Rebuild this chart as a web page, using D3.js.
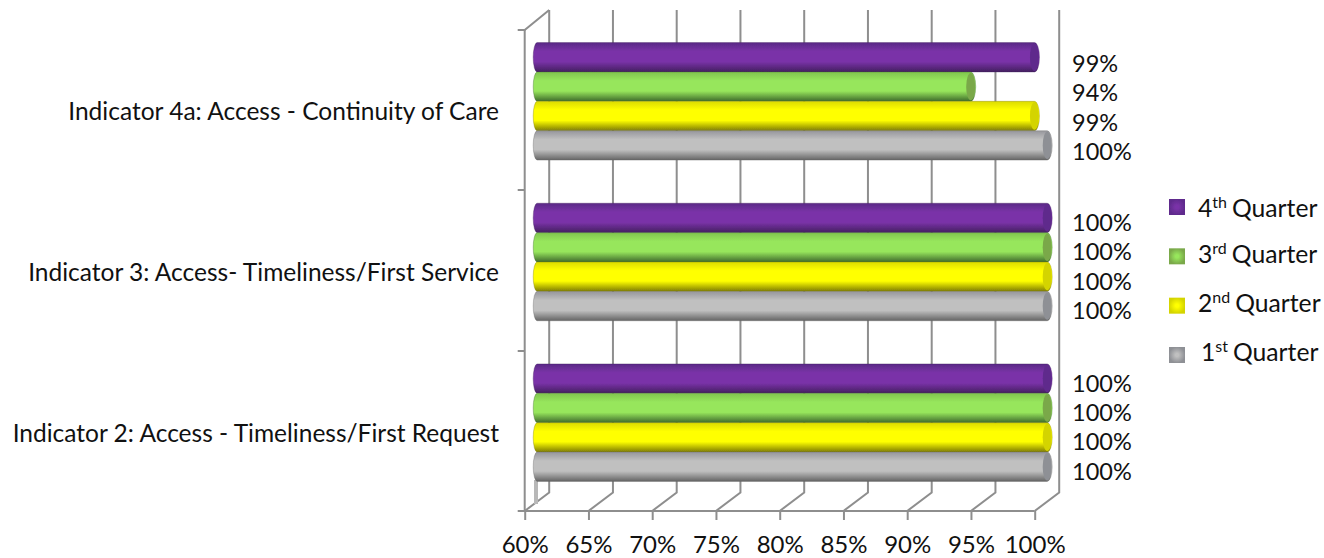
<!DOCTYPE html>
<html>
<head>
<meta charset="utf-8">
<script src="https://cdn.jsdelivr.net/npm/d3@7"></script>
<style>
  html, body { margin: 0; padding: 0; background: #fff; }
  text { font-family: Lato, "Open Sans", sans-serif; fill: #111; }
  .grid { stroke: #8e8e8e; stroke-width: 2; fill: none; }
</style>
</head>
<body>
<div id="vis"></div>
<script>
// data. categories run top to bottom
var categories = [
  "Indicator 4a: Access - Continuity of Care",
  "Indicator 3: Access- Timeliness/First Service",
  "Indicator 2: Access - Timeliness/First Request"
];
var quarters = ["4th", "3rd", "2nd", "1st"];
var q4 = [99, 100, 100];
var q3 = [94, 100, 100];
var q2 = [99, 100, 100];
var q1 = [100, 100, 100];
var xTicks = [60, 65, 70, 75, 80, 85, 90, 95, 100];

var series = [q4, q3, q2, q1];
var suffix = ["th", "rd", "nd", "st"];
var quarterNum = ["4", "3", "2", "1"];

// top, middle, bottom stops of each cylinder
var shades = [
  ["#5a2a86", "#7a32a8", "#43205f"],
  ["#80c44e", "#97e65c", "#3f6a2c"],
  ["#dcdc00", "#ffff00", "#7e7c08"],
  ["#96969c", "#c0c0c0", "#646464"]
];
var capFill = ["#5f2b8c", "#7aa84a", "#d4d400", "#8e9095"];

var width = 1324, height = 558;

var svg = d3.select("#vis").append("svg")
  .attr("width", width)
  .attr("height", height)
  .style("display", "block");

var defs = svg.append("defs");
shades.forEach(function(s, i) {
  var g = defs.append("linearGradient")
    .attr("id", "bar" + i)
    .attr("x1", 0).attr("x2", 0).attr("y1", 0).attr("y2", 1);
  g.append("stop").attr("offset", "0%").attr("stop-color", s[0]);
  g.append("stop").attr("offset", "30%").attr("stop-color", s[1]);
  g.append("stop").attr("offset", "65%").attr("stop-color", s[1]);
  g.append("stop").attr("offset", "100%").attr("stop-color", s[2]);

  // legend swatches are bevelled, light in the middle
  var r = defs.append("radialGradient").attr("id", "swatch" + i);
  r.append("stop").attr("offset", "20%").attr("stop-color", s[1]);
  r.append("stop").attr("offset", "100%").attr("stop-color", capFill[i]);
});
defs.append("filter").attr("id", "soft")
  .attr("x", "-5%").attr("y", "-5%").attr("width", "110%").attr("height", "110%")
  .append("feGaussianBlur").attr("stdDeviation", 0.6);

// front of the floor
var x = d3.scaleLinear().domain([60, 100]).range([524.7, 1034.7]);
var depthX = 24.5, depthY = 18.5;   // front to back wall
var top_ = 30, floor = 511;
var barShift = 12.5;

var y = d3.scaleBand().domain(categories).range([top_ - 9, floor - 8]);
var yInner = d3.scaleBand().domain(quarters).range([0, 117.5]);
var innerPad = (y.bandwidth() - 117.5) / 2;

// back wall gridlines and their diagonals
svg.selectAll(".wall").data(xTicks).enter().append("path")
  .attr("class", "grid")
  .attr("d", function(d) {
    return "M" + (x(d) + depthX) + "," + (top_ - 20) +
      "V" + (floor - depthY) + "L" + x(d) + "," + floor;
  });

// left wall and floor front edge
svg.append("path").attr("class", "grid")
  .attr("d", "M" + x(60) + "," + top_ + "V" + floor + "H" + x(100));
svg.append("path").attr("class", "grid")
  .attr("d", "M" + (x(60) - 7) + "," + top_ + "H" + x(60) + "L" + (x(60) + depthX) + "," + (top_ - 20));
svg.selectAll(".ytick").data([190, 351, 511]).enter().append("line")
  .attr("class", "grid")
  .attr("x1", x(60) - 7).attr("x2", x(60))
  .attr("y1", function(d) { return d; }).attr("y2", function(d) { return d; });

// floor stub behind the bottom group
svg.append("rect")
  .attr("x", 534).attr("y", 480).attr("width", 4).attr("height", 24)
  .attr("fill", "#b8b8b8");

// x axis
var xAxis = d3.axisBottom(x)
  .tickValues(xTicks)
  .tickSize(9)
  .tickPadding(16)
  .tickFormat(function(d) { return d + "%"; });
var axisG = svg.append("g")
  .attr("transform", "translate(0," + floor + ")")
  .call(xAxis);
axisG.select(".domain").remove();
axisG.selectAll("line").attr("class", "grid");
axisG.selectAll("text")
  .style("font-family", "Lato, sans-serif")
  .style("font-size", "24px")
  .attr("fill", "#111");

// category labels
svg.selectAll(".cat").data(categories).enter().append("text")
  .attr("class", "cat")
  .attr("x", 499)
  .attr("y", function(d) { return y(d) + y.bandwidth() / 2 + 19; })
  .attr("text-anchor", "end")
  .style("font-size", "24.5px")
  .text(function(d) { return d; });

// bars
var barLeft = x(60) + barShift;
function barPath(v, y0, h) {
  var xe = x(v) + barShift;
  return "M" + (barLeft) + "," + y0 + "H" + xe +
    "A5," + (h / 2) + " 0 0 1 " + xe + "," + (y0 + h) +
    "H" + barLeft +
    "A4," + (h / 2) + " 0 0 1 " + barLeft + "," + y0 + "Z";
}

var labelNudge = [1.5, 0, 0];

categories.forEach(function(cat, c) {
  var gy = y(cat) + innerPad;
  quarters.forEach(function(q, i) {
    var v = series[i][c];
    var by = gy + yInner(q);
    var h = yInner.bandwidth();
    var bar = svg.append("g").attr("filter", "url(#soft)");
    bar.append("path")
      .attr("d", barPath(v, by, h))
      .attr("fill", "url(#bar" + i + ")")
      .attr("stroke", shades[i][2])
      .attr("stroke-opacity", 0.45)
      .attr("stroke-width", 0.8);
    bar.append("ellipse")
      .attr("cx", x(v) + barShift)
      .attr("cy", by + h / 2)
      .attr("rx", 4.5)
      .attr("ry", h / 2 - 1)
      .attr("fill", capFill[i]);
    svg.append("text")
      .attr("x", 1072)
      .attr("y", by + h / 2 + 13 + labelNudge[c])
      .style("font-size", "23.5px")
      .text(v + "%");
  });
});

// legend
var legendY = d3.scalePoint().domain(quarters).range([207, 355]);
var legendText = [217, 263, 312, 361];
var legendX = [1198, 1198, 1198, 1201];
quarters.forEach(function(q, i) {
  svg.append("rect")
    .attr("x", 1169).attr("y", legendY(q) - 8)
    .attr("width", 16).attr("height", 16)
    .attr("fill", "url(#swatch" + i + ")")
    .attr("filter", "url(#soft)");
  var t = svg.append("text")
    .attr("x", legendX[i])
    .attr("y", legendText[i])
    .style("font-size", "24.7px");
  t.append("tspan").text(quarterNum[i]);
  t.append("tspan")
    .attr("dy", -9)
    .style("font-size", "16px")
    .text(suffix[i]);
  t.append("tspan")
    .attr("dy", 9)
    .attr("dx", 5)
    .text("Quarter");
});
</script>
</body>
</html>
